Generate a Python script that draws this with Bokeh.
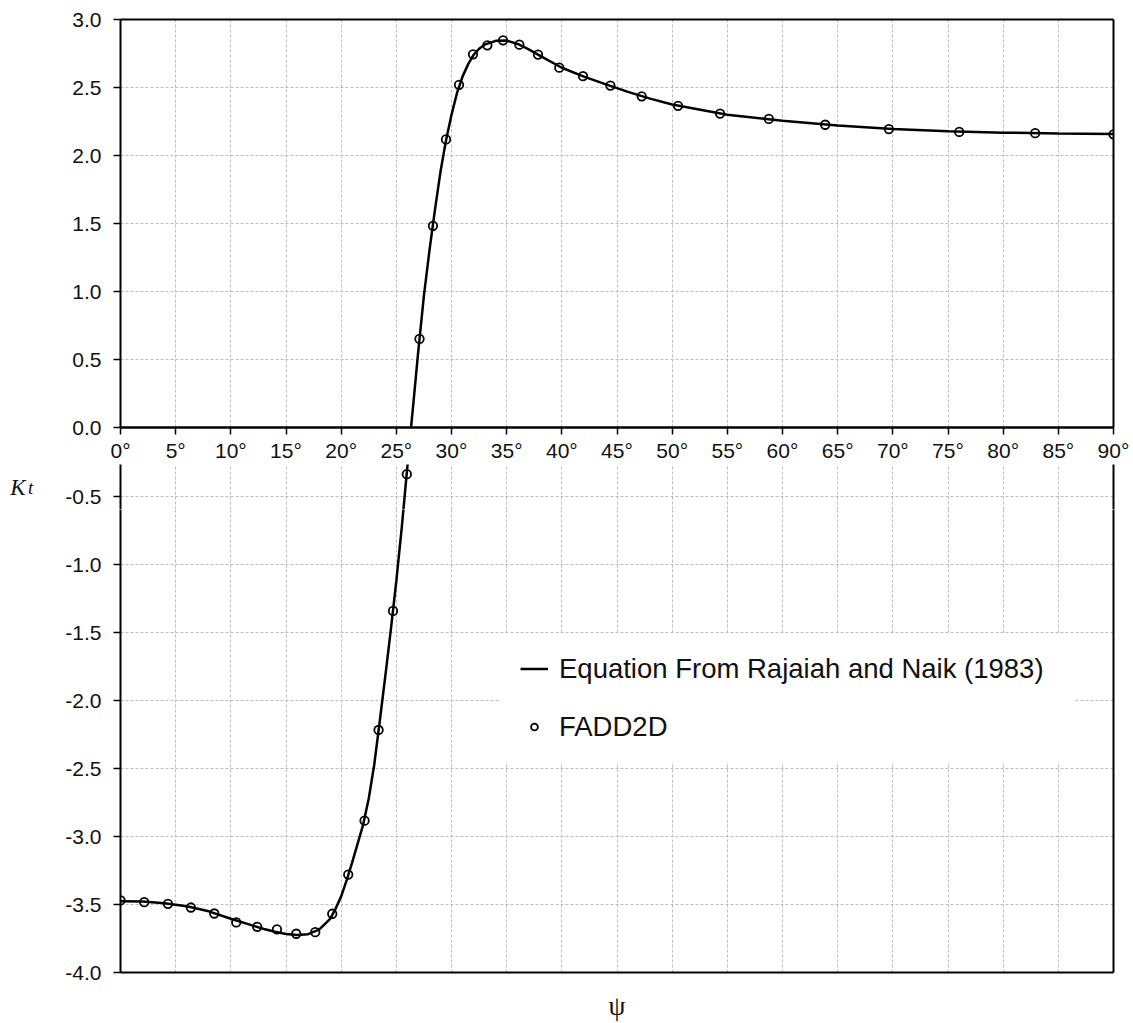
from bokeh.plotting import figure
from bokeh.models import (LinearAxis, FixedTicker, Grid, Range1d, Legend, LegendItem)
from bokeh.layouts import column
from bokeh.embed import file_html
from bokeh.resources import INLINE

# ---- data ----
psi_fadd = [0.0, 2.15, 4.3, 6.38, 8.5, 10.49, 12.39, 14.18, 15.93, 17.65,
            19.19, 20.64, 22.12, 23.39, 24.7, 25.95, 27.1, 28.32, 29.5, 30.68,
            31.95, 33.25, 34.67, 36.15, 37.84, 39.77, 41.92, 44.4, 47.24, 50.53,
            54.34, 58.76, 63.87, 69.64, 76.02, 82.9, 90.0]
kt_fadd = [-3.47, -3.483, -3.495, -3.522, -3.566, -3.632, -3.664, -3.683, -3.715, -3.703,
           -3.568, -3.28, -2.883, -2.216, -1.34, -0.335, 0.651, 1.483, 2.118, 2.52,
           2.744, 2.81, 2.847, 2.815, 2.742, 2.646, 2.583, 2.514, 2.435, 2.365,
           2.308, 2.269, 2.226, 2.194, 2.173, 2.164, 2.156]

psi_eq = [0, 2, 4, 6, 8, 10, 12, 13, 14, 15, 16, 17, 18, 19, 19.5, 20, 20.5, 21,
          21.5, 22, 22.5, 23, 23.5, 24, 24.5, 25, 25.5, 26, 26.5, 27, 27.5, 28,
          28.5, 29, 29.5, 30, 30.5, 31, 31.5, 32, 32.5, 33, 34, 35, 36, 37, 38,
          40, 42, 44, 46, 48, 50, 55, 60, 65, 70, 75, 80, 85, 90]
kt_eq = [-3.475, -3.478, -3.49, -3.512, -3.55, -3.605, -3.655, -3.68, -3.70, -3.717,
         -3.725, -3.718, -3.685, -3.605, -3.53, -3.44, -3.32, -3.19, -3.05, -2.91,
         -2.72, -2.47, -2.15, -1.82, -1.48, -1.12, -0.72, -0.28, 0.14, 0.57,
         0.97, 1.30, 1.60, 1.88, 2.11, 2.30, 2.46, 2.58, 2.67, 2.74,
         2.785, 2.815, 2.843, 2.845, 2.82, 2.78, 2.735, 2.645, 2.58, 2.523,
         2.468, 2.418, 2.375, 2.30, 2.255, 2.22, 2.195, 2.178, 2.168, 2.162, 2.158]

x_ticks = list(range(0, 95, 5))
x_tick_labels = [f"{t}\u00b0" for t in x_ticks]
y_ticks = [-4.0, -3.5, -3.0, -2.5, -2.0, -1.5, -1.0, -0.5, 0.0, 0.5, 1.0, 1.5, 2.0, 2.5, 3.0]
y_tick_labels = ["-4.0", "-3.5", "-3.0", "-2.5", "-2.0", "-1.5", "-1.0", "-0.5",
                 "0.0", "0.5", "1.0", "1.5", "2.0", "2.5", "3.0"]

series_names = ["Equation From Rajaiah and Naik (1983)", "FADD2D"]
x_title = "\u03c8"
y_title_main = "K"
y_title_sub = "t"

SANS = "Liberation Sans"
SERIF = "Liberation Serif"
INK = "#111111"
GRID = "#bdbdbd"

# Layout (pixels): one continuous y scale split in three stacked panels so the
# degree labels can sit on the y = 0 axis inside the chart.
PX_PER_UNIT = 409 / 3.0
BAND = 36          # height of the degree-label band below y = 0
MID = 45           # small panel that carries the K_t title
y_band_end = -BAND / PX_PER_UNIT
y_mid_end = -(BAND + MID) / PX_PER_UNIT

X_RANGE = Range1d(0, 90)
xt = FixedTicker(ticks=x_ticks, minor_ticks=[])
yt = FixedTicker(ticks=y_ticks, minor_ticks=[])
no_ticks = FixedTicker(ticks=[], minor_ticks=[])
overrides_y = dict(zip(y_ticks, y_tick_labels))
overrides_x = dict(zip(x_ticks, x_tick_labels))


def make_fig(height, y0, y1, top, bottom):
    f = figure(width=1133, height=height, x_range=X_RANGE, y_range=Range1d(y0, y1),
               x_axis_type=None, y_axis_type=None, toolbar_location=None,
               output_backend="svg", min_border_left=120, min_border_right=20,
               min_border_top=top, min_border_bottom=bottom)
    f.outline_line_color = None
    f.background_fill_color = "white"
    f.border_fill_color = "white"
    f.add_layout(Grid(dimension=0, ticker=xt, grid_line_color=GRID,
                      grid_line_dash="3 2", grid_line_width=1))
    f.add_layout(Grid(dimension=1, ticker=yt, grid_line_color=GRID,
                      grid_line_dash="3 2", grid_line_width=1))
    return f


def y_axis(**kw):
    return LinearAxis(ticker=yt, major_label_overrides=overrides_y,
                      axis_line_color="black", axis_line_width=2,
                      major_tick_line_color="black", major_tick_line_width=1.5,
                      major_tick_out=7, major_tick_in=0, minor_tick_line_color=None,
                      major_label_standoff=12, major_label_text_font=SANS,
                      major_label_text_font_size="21px",
                      major_label_text_color=INK, **kw)


def border_axis(**kw):
    return LinearAxis(ticker=no_ticks, axis_line_color="black", axis_line_width=2,
                      major_tick_out=0, major_tick_in=0, minor_tick_line_color=None,
                      major_label_text_font_size="0px", **kw)


def draw(f):
    ln = f.line(psi_eq, kt_eq, line_color="black", line_width=2.5)
    sc = f.scatter(psi_fadd, kt_fadd, marker="circle", size=8.5, line_color="black",
                   line_width=1.8, fill_alpha=0)
    return ln, sc


# ---- top panel: 0 .. 3 with the degree axis at y = 0 ----
top = make_fig(19 + 409 + BAND, 0, 3, 19, BAND)
top.add_layout(y_axis(), "left")
top.add_layout(border_axis(), "right")
top.add_layout(border_axis(), "above")
top.add_layout(LinearAxis(ticker=xt, major_label_overrides=overrides_x,
                          axis_line_color="black", axis_line_width=2.5,
                          major_tick_line_color="black", major_tick_line_width=1.5,
                          major_tick_out=7, major_tick_in=0,
                          minor_tick_line_color=None, major_label_standoff=4,
                          major_label_text_font=SANS, major_label_text_font_size="21px",
                          major_label_text_color=INK), "below")
draw(top)

# ---- middle panel: carries the K_t title ----
mid = make_fig(MID, y_mid_end, y_band_end, 0, 0)
mid.add_layout(y_axis(axis_label=y_title_sub, axis_label_orientation="horizontal",
                      axis_label_standoff=29, axis_label_text_font=SERIF,
                      axis_label_text_font_style="italic",
                      axis_label_text_font_size="19px",
                      axis_label_text_baseline="top",
                      axis_label_text_color=INK), "left")
mid.add_layout(LinearAxis(ticker=no_ticks, axis_line_color=None, major_tick_out=0,
                          major_tick_in=0, minor_tick_line_color=None,
                          major_label_text_font_size="0px",
                          axis_label=y_title_main, axis_label_orientation="horizontal",
                          axis_label_standoff=0, axis_label_text_font=SERIF,
                          axis_label_text_font_style="italic",
                          axis_label_text_font_size="23px",
                          axis_label_text_baseline="middle",
                          axis_label_text_color=INK), "left")
mid.add_layout(border_axis(), "right")
draw(mid)

# ---- bottom panel: -4 .. below the K_t panel ----
bot = make_fig(1023 - (19 + 409 + BAND) - MID, -4, y_mid_end, 0, 50)
bot.add_layout(y_axis(), "left")
bot.add_layout(border_axis(), "right")
bot.add_layout(border_axis(axis_label=x_title, axis_label_standoff=18,
                           axis_label_text_font=SERIF,
                           axis_label_text_font_style="normal",
                           axis_label_text_font_size="27px",
                           axis_label_text_color=INK), "below")
eq, pts = draw(bot)

legend = Legend(items=[LegendItem(label=series_names[0], renderers=[eq]),
                       LegendItem(label=series_names[1], renderers=[pts])],
                location=(381, 210.5), orientation="vertical",
                background_fill_color="white", background_fill_alpha=1,
                border_line_color="white", border_line_width=1,
                padding=18, spacing=26, margin=0,
                glyph_width=28, glyph_height=17, label_height=31, label_width=496,
                label_standoff=11, label_text_font=SANS,
                label_text_font_size="27.5px", label_text_color=INK)
bot.add_layout(legend)

page = column(top, mid, bot, spacing=0)
open("out.html", "w").write(file_html(page, INLINE))
